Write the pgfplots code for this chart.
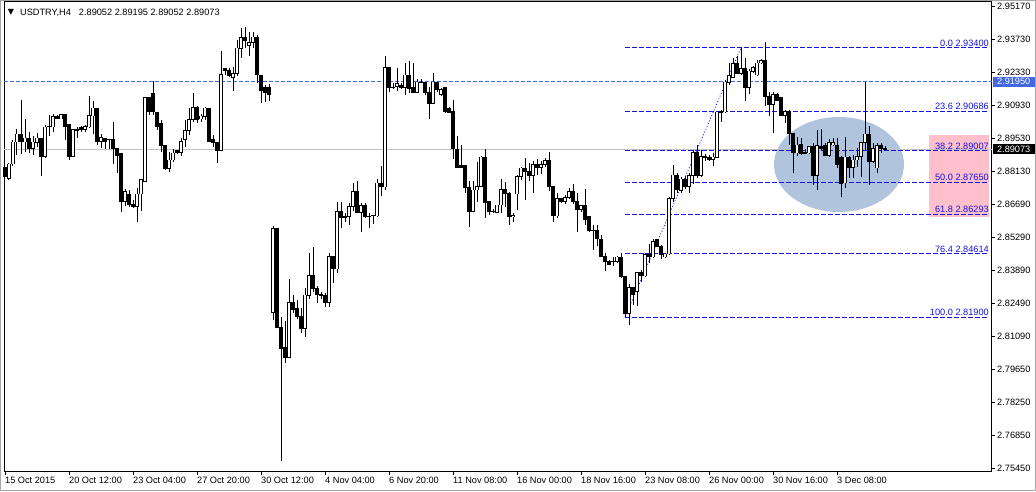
\documentclass[border=0pt]{standalone}
\usepackage{fontspec}
\setmainfont{Liberation Sans}
\newfontfamily\dejavu{DejaVu Sans}
\usepackage{pgfplots}
\usepackage{pgfplotstable}
\pgfplotsset{compat=1.18}
\definecolor{royal}{RGB}{65,105,225}
\definecolor{fibblue}{RGB}{20,20,230}
\definecolor{curgray}{RGB}{192,192,192}
\definecolor{ellblue}{RGB}{176,196,222}
\definecolor{pinkbox}{RGB}{255,192,203}
\tikzset{fiblab/.style={fibblue, anchor=south east, inner sep=1pt, font=\fontsize{9.2}{11}\selectfont}}

\pgfplotstableread{
i O H L C
0 2.8830 2.8839 2.8758 2.8788
1 2.8783 2.8847 2.8775 2.8843
2 2.8843 2.8946 2.8835 2.8937
3 2.8937 2.8992 2.8881 2.8971
4 2.8967 2.9116 2.8886 2.8937
5 2.8937 2.9035 2.8894 2.8954
6 2.8954 2.8980 2.8890 2.8911
7 2.8911 2.8963 2.8881 2.8937
8 2.8933 2.8975 2.8916 2.8954
9 2.8954 2.8954 2.8792 2.8877
10 2.8877 2.9010 2.8869 2.9001
11 2.9001 2.9052 2.8963 2.9005
12 2.9001 2.9056 2.8980 2.9044
13 2.9044 2.9052 2.9035 2.9035
14 2.9035 2.9056 2.9035 2.9056
15 2.9056 2.9056 2.8946 2.9005
16 2.9010 2.9014 2.8860 2.8877
17 2.8877 2.8992 2.8877 2.8992
18 2.8992 2.9001 2.8954 2.8984
19 2.9001 2.9005 2.8980 2.8992
20 2.8992 2.9010 2.8980 2.9005
21 2.9001 2.9133 2.8997 2.9052
22 2.9048 2.9112 2.8971 2.9082
23 2.9082 2.9082 2.8924 2.8941
24 2.8941 2.8971 2.8911 2.8958
25 2.8950 2.8954 2.8907 2.8941
26 2.8946 2.8950 2.8907 2.8946
27 2.8946 2.9022 2.8843 2.8907
28 2.8911 2.8911 2.8805 2.8881
29 2.8886 2.8886 2.8638 2.8681
30 2.8681 2.8736 2.8664 2.8724
31 2.8715 2.8732 2.8660 2.8668
32 2.8672 2.8689 2.8655 2.8660
33 2.8660 2.8741 2.8596 2.8715
34 2.8715 2.8775 2.8642 2.8775
35 2.8770 2.9129 2.8770 2.9125
36 2.9125 2.9125 2.9052 2.9065
37 2.9142 2.9197 2.9052 2.9065
38 2.9065 2.9065 2.8988 2.9005
39 2.9014 2.9031 2.8894 2.8920
40 2.8924 2.8924 2.8817 2.8822
41 2.8822 2.8894 2.8809 2.8860
42 2.8860 2.8907 2.8852 2.8890
43 2.8899 2.8903 2.8886 2.8890
44 2.8894 2.8954 2.8877 2.8941
45 2.8946 2.9031 2.8916 2.8988
46 2.8988 2.9082 2.8967 2.9031
47 2.9031 2.9146 2.9022 2.9086
48 2.9086 2.9091 2.9018 2.9031
49 2.9035 2.9056 2.9022 2.9048
50 2.9044 2.9086 2.9031 2.9082
51 2.9082 2.9082 2.8937 2.8941
52 2.8946 2.8967 2.8916 2.8933
53 2.8937 2.8937 2.8847 2.8899
54 2.8899 2.9325 2.8899 2.9227
55 2.9249 2.9249 2.9223 2.9240
56 2.9244 2.9253 2.9214 2.9219
57 2.9214 2.9257 2.9155 2.9231
58 2.9231 2.9372 2.9219 2.9338
59 2.9334 2.9423 2.9295 2.9381
60 2.9381 2.9428 2.9338 2.9368
61 2.9347 2.9406 2.9304 2.9360
62 2.9360 2.9406 2.9338 2.9385
63 2.9385 2.9394 2.9189 2.9223
64 2.9223 2.9223 2.9103 2.9155
65 2.9168 2.9180 2.9108 2.9150
66 2.9168 2.9185 2.9112 2.9138
67 2.8211 2.8578 2.8177 2.8566
68 2.8570 2.8570 2.8143 2.8147
69 2.8147 2.8190 2.7575 2.8054
70 2.8058 2.8173 2.7994 2.8019
71 2.8019 2.8352 2.8019 2.8250
72 2.8250 2.8284 2.8207 2.8224
73 2.8228 2.8263 2.8181 2.8190
74 2.8194 2.8228 2.8122 2.8139
75 2.8139 2.8314 2.8105 2.8284
76 2.8280 2.8463 2.8267 2.8369
77 2.8369 2.8489 2.8297 2.8310
78 2.8310 2.8322 2.8250 2.8284
79 2.8288 2.8297 2.8267 2.8280
80 2.8280 2.8293 2.8233 2.8250
81 2.8250 2.8463 2.8233 2.8450
82 2.8450 2.8450 2.8335 2.8395
83 2.8395 2.8681 2.8378 2.8642
84 2.8642 2.8681 2.8570 2.8613
85 2.8621 2.8634 2.8596 2.8613
86 2.8617 2.8677 2.8583 2.8660
87 2.8660 2.8762 2.8642 2.8724
88 2.8724 2.8770 2.8638 2.8638
89 2.8638 2.8677 2.8553 2.8664
90 2.8668 2.8677 2.8613 2.8617
91 2.8621 2.8634 2.8570 2.8621
92 2.8625 2.8625 2.8587 2.8621
93 2.8621 2.8779 2.8617 2.8762
94 2.8762 2.8835 2.8707 2.8745
95 2.8745 2.9304 2.8732 2.9253
96 2.9253 2.9253 2.9150 2.9168
97 2.9168 2.9189 2.9163 2.9168
98 2.9172 2.9253 2.9155 2.9185
99 2.9180 2.9189 2.9163 2.9168
100 2.9168 2.9274 2.9138 2.9223
101 2.9223 2.9283 2.9146 2.9163
102 2.9168 2.9274 2.9146 2.9150
103 2.9150 2.9206 2.9146 2.9193
104 2.9193 2.9206 2.9189 2.9193
105 2.9189 2.9189 2.9138 2.9150
106 2.9150 2.9172 2.9035 2.9103
107 2.9103 2.9231 2.9103 2.9193
108 2.9193 2.9193 2.9150 2.9159
109 2.9138 2.9168 2.9133 2.9159
110 2.9168 2.9168 2.9061 2.9069
111 2.9082 2.9086 2.9061 2.9061
112 2.9069 2.9116 2.8864 2.8907
113 2.8907 2.8963 2.8826 2.8830
114 2.8835 2.8924 2.8826 2.8830
115 2.8835 2.8835 2.8719 2.8741
116 2.8741 2.8770 2.8574 2.8642
117 2.8642 2.8770 2.8642 2.8732
118 2.8732 2.8852 2.8681 2.8749
119 2.8749 2.8877 2.8745 2.8873
120 2.8873 2.8907 2.8613 2.8677
121 2.8681 2.8681 2.8625 2.8642
122 2.8642 2.8651 2.8634 2.8642
123 2.8638 2.8668 2.8634 2.8668
124 2.8668 2.8779 2.8634 2.8736
125 2.8736 2.8766 2.8660 2.8719
126 2.8719 2.8724 2.8583 2.8617
127 2.8617 2.8634 2.8596 2.8625
128 2.8715 2.8796 2.8647 2.8788
129 2.8788 2.8830 2.8775 2.8826
130 2.8826 2.8869 2.8689 2.8809
131 2.8813 2.8847 2.8770 2.8792
132 2.8792 2.8856 2.8719 2.8839
133 2.8839 2.8864 2.8796 2.8830
134 2.8830 2.8856 2.8800 2.8839
135 2.8839 2.8869 2.8830 2.8856
136 2.8856 2.8894 2.8728 2.8745
137 2.8749 2.8749 2.8596 2.8621
138 2.8621 2.8719 2.8613 2.8694
139 2.8694 2.8698 2.8677 2.8681
140 2.8681 2.8711 2.8672 2.8702
141 2.8702 2.8741 2.8694 2.8724
142 2.8724 2.8758 2.8672 2.8681
143 2.8681 2.8719 2.8553 2.8647
144 2.8647 2.8668 2.8638 2.8664
145 2.8664 2.8736 2.8583 2.8608
146 2.8617 2.8617 2.8553 2.8557
147 2.8561 2.8583 2.8476 2.8561
148 2.8561 2.8583 2.8493 2.8523
149 2.8523 2.8540 2.8446 2.8446
150 2.8450 2.8463 2.8386 2.8425
151 2.8429 2.8433 2.8416 2.8416
152 2.8425 2.8446 2.8408 2.8425
153 2.8425 2.8450 2.8421 2.8446
154 2.8446 2.8463 2.8356 2.8361
155 2.8365 2.8365 2.8190 2.8203
156 2.8203 2.8331 2.8156 2.8314
157 2.8314 2.8318 2.8241 2.8284
158 2.8297 2.8382 2.8237 2.8378
159 2.8378 2.8391 2.8339 2.8365
160 2.8365 2.8463 2.8361 2.8455
161 2.8455 2.8502 2.8421 2.8446
162 2.8446 2.8523 2.8442 2.8514
163 2.8519 2.8523 2.8489 2.8489
164 2.8493 2.8497 2.8438 2.8455
165 2.8446 2.8463 2.8442 2.8459
166 2.8459 2.8702 2.8455 2.8694
167 2.8694 2.8839 2.8681 2.8796
168 2.8792 2.8805 2.8719 2.8732
169 2.8728 2.8788 2.8719 2.8779
170 2.8779 2.8792 2.8736 2.8745
171 2.8749 2.8805 2.8719 2.8792
172 2.8792 2.8903 2.8758 2.8894
173 2.8894 2.8924 2.8783 2.8792
174 2.8792 2.8903 2.8788 2.8877
175 2.8877 2.8886 2.8856 2.8869
176 2.8873 2.8881 2.8856 2.8864
177 2.8864 2.8890 2.8835 2.8873
178 2.8869 2.9065 2.8869 2.9065
179 2.9069 2.9074 2.9022 2.9061
180 2.9065 2.9202 2.9061 2.9193
181 2.9189 2.9274 2.9180 2.9219
182 2.9214 2.9295 2.9210 2.9270
183 2.9270 2.9304 2.9231 2.9231
184 2.9231 2.9340 2.9223 2.9249
185 2.9249 2.9295 2.9112 2.9168
186 2.9168 2.9249 2.9142 2.9240
187 2.9236 2.9261 2.9231 2.9253
188 2.9223 2.9287 2.9219 2.9274
189 2.9274 2.9291 2.9270 2.9283
190 2.9283 2.9364 2.9091 2.9133
191 2.9133 2.9150 2.9048 2.9095
192 2.9095 2.9150 2.8975 2.9138
193 2.9138 2.9146 2.9112 2.9116
194 2.9129 2.9129 2.9048 2.9052
195 2.9052 2.9074 2.9018 2.9069
196 2.9069 2.9074 2.8924 2.8975
197 2.8975 2.8975 2.8805 2.8890
198 2.8890 2.8958 2.8877 2.8924
199 2.8928 2.8954 2.8881 2.8886
200 2.8894 2.8907 2.8886 2.8886
201 2.8890 2.8916 2.8886 2.8916
202 2.8916 2.8933 2.8753 2.8792
203 2.8792 2.8988 2.8732 2.8920
204 2.8916 2.8992 2.8903 2.8911
205 2.8920 2.8933 2.8877 2.8881
206 2.8881 2.8950 2.8873 2.8933
207 2.8924 2.8954 2.8920 2.8933
208 2.8924 2.8954 2.8826 2.8839
209 2.8873 2.8877 2.8702 2.8758
210 2.8762 2.8958 2.8741 2.8873
211 2.8873 2.8877 2.8783 2.8830
212 2.8830 2.8881 2.8783 2.8860
213 2.8860 2.8911 2.8830 2.8877
214 2.8877 2.8937 2.8788 2.8933
215 2.8933 2.9193 2.8903 2.8971
216 2.8971 2.9005 2.8753 2.8852
217 2.8852 2.8933 2.8847 2.8911
218 2.8826 2.8933 2.8805 2.8920
219 2.8920 2.8933 2.8890 2.8907
220 2.89052 2.89195 2.89052 2.89073
}\candles

\begin{document}
\begin{tikzpicture}[x=1pt,y=1pt]
\useasboundingbox (0,0) rectangle (1036,491);
\fill[white] (0,0) rectangle (1036,491);
\begin{axis}[
  at={(4.5pt,20pt)}, anchor=south west,
  scale only axis, width=987pt, height=470pt,
  xmin=-0.125, xmax=246.625, ymin=2.75328, ymax=2.95387,
  clip=false,
  axis line style={black, line width=0.9pt},
  tick align=outside, xtick pos=bottom, ytick pos=right, yticklabel pos=right,
  major tick length=3.5pt,
  tick style={black, line width=0.8pt},
  xtick={0,16,...,208},
  xticklabels={15 Oct 2015, 20 Oct 12:00, 23 Oct 04:00, 27 Oct 20:00, 30 Oct 12:00, 4 Nov 04:00, 6 Nov 20:00, 11 Nov 08:00, 16 Nov 00:00, 18 Nov 16:00, 23 Nov 08:00, 26 Nov 00:00, 30 Nov 16:00, 3 Dec 08:00},
  ytick={2.9517,2.9373,2.9233,2.9093,2.8953,2.8813,2.8669,2.8529,2.8389,2.8249,2.8109,2.7965,2.7825,2.7685,2.7545},
  yticklabels={2.95170,2.93730,2.92330,2.90930,2.89530,2.88130,2.86690,2.85290,2.83890,2.82490,2.81090,2.79650,2.78250,2.76850,2.75450},
  ticklabel style={font=\fontsize{9.2}{11}\selectfont, inner sep=0pt},
  xticklabel style={anchor=west, yshift=-6pt},
  yticklabel style={anchor=west, xshift=2pt},
  candle/.style={draw=none, mark=none, forget plot, error bars/.cd, y dir=minus, y explicit, error mark=none},
]
% background objects
\fill[ellblue] (axis cs:208.5,2.8841) ellipse [x radius=65pt, y radius=47.5pt];
\addplot[draw=none, fill=pinkbox] coordinates {(231,2.8617) (246,2.8617) (246,2.8967) (231,2.8967)} -- cycle;
\addplot[curgray, line width=0.8pt] coordinates {(-0.125,2.89073) (246.625,2.89073)};
\addplot[royal, line width=0.8pt, dash pattern=on 4pt off 2pt] coordinates {(-0.125,2.9195) (246.625,2.9195)};
\pgfplotsinvokeforeach{2.934,2.90686,2.89007,2.8765,2.86293,2.84614,2.819}{
  \addplot[fibblue, line width=0.8pt, dash pattern=on 5pt off 2pt] coordinates {(155,#1) (246,#1)};
}
\addplot[fibblue, line width=0.8pt, dash pattern=on 1pt off 2pt] coordinates {(155,2.819) (184,2.934)};
% candles: wicks
\addplot[candle, error bar style={draw=black, line width=1pt}]
  table[x=i, y=H, y error minus expr={\thisrow{H}-\thisrow{L}}] {\candles};
% bodies (outline / black fill)
\addplot[candle, error bar style={draw=black, line width=3.6pt}]
  table[x=i, y expr={max(\thisrow{O},\thisrow{C})+0.0002}, y error minus expr={abs(\thisrow{O}-\thisrow{C})+0.0004}] {\candles};
% bullish inner (white)
\addplot[candle, error bar style={draw=white, line width=1.6pt}]
  table[x=i, y expr={\thisrow{C}-0.0002}, y error minus expr={max(\thisrow{C}-\thisrow{O}-0.0004,0)}] {\candles};
% fib labels
\node[fiblab] at (axis cs:246.25,2.934) {0.0 2.93400};
\node[fiblab] at (axis cs:246.25,2.90686) {23.6 2.90686};
\node[fiblab] at (axis cs:246.25,2.89007) {38.2 2.89007};
\node[fiblab] at (axis cs:246.25,2.8765) {50.0 2.87650};
\node[fiblab] at (axis cs:246.25,2.86293) {61.8 2.86293};
\node[fiblab] at (axis cs:246.25,2.84614) {76.4 2.84614};
\node[fiblab] at (axis cs:246.25,2.819) {100.0 2.81900};
% price boxes on the right scale
\node[fill=royal, text=white, anchor=west, inner sep=0pt, minimum height=10pt, minimum width=42pt, font=\fontsize{9.2}{11}\selectfont, xshift=1pt] at (axis cs:246.625,2.9195) {2.91950};
\node[fill=black, text=white, anchor=west, inner sep=0pt, minimum height=10pt, minimum width=42pt, font=\fontsize{9.2}{11}\selectfont, xshift=1pt] at (axis cs:246.625,2.89073) {2.89073};
\end{axis}
% title
\node[anchor=center, inner sep=0pt, font=\dejavu\fontsize{8}{9}\selectfont] at (11,478.5) {▼};
\node[anchor=west, inner sep=0pt, font=\fontsize{9.2}{11}\selectfont] at (20,478.3) {USDTRY,H4\hspace{8pt}2.89052 2.89195 2.89052 2.89073};
% window border
\draw[gray!70, line width=1pt] (0.5,0.5) rectangle (1035.5,490.5);
\end{tikzpicture}
\end{document}
